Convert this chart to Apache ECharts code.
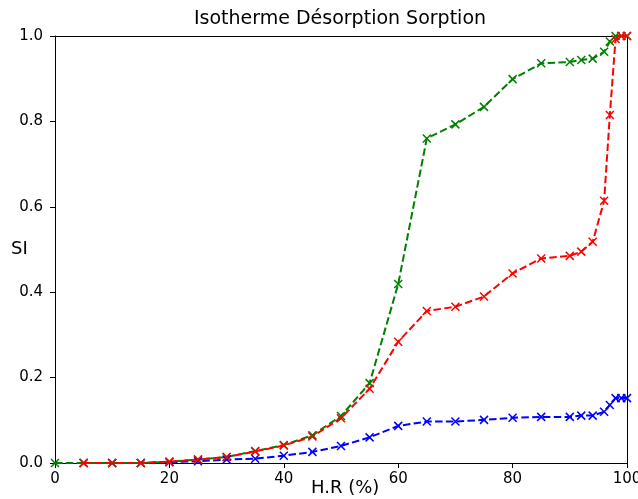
<!DOCTYPE html>
<html>
<head>
<meta charset="utf-8">
<script src="https://cdn.jsdelivr.net/npm/echarts@6/dist/echarts.min.js"></script>
<style>html,body{margin:0;padding:0;background:#fff;overflow:hidden}#c{width:638px;height:499px}</style>
</head>
<body>
<div id="c"></div>
<script>
const hr = [0,5,10,15,20,25,30,35,40,45,50,55,60,65,70,75,80,85,90,92,94,96,97,98,99,100];
const blueValues = [null,0,0,0,0.002,0.004,0.008,0.010,0.017,0.026,0.040,0.060,0.087,0.097,0.097,0.101,0.106,0.108,0.108,0.111,0.111,0.120,0.136,0.152,0.152,0.152];
const greenValues = [0,0,0,0,0.003,0.008,0.014,0.028,0.042,0.065,0.110,0.187,0.419,0.760,0.793,0.834,0.899,0.936,0.939,0.944,0.947,0.963,0.987,1.0,1.0,1.0];
const redValues = [null,0,0,0,0.003,0.008,0.014,0.027,0.041,0.062,0.105,0.174,0.284,0.356,0.366,0.390,0.444,0.479,0.485,0.495,0.518,0.614,0.815,0.993,1.0,1.0];
const xTicks = [0,20,40,60,80,100];
const titleText = 'Isotherme Désorption Sorption';
const xLabel = 'H.R (%)';
const yLabel = 'SI';

const FONT = 'DejaVu Sans';
const X_PATH = 'path://M0,0L10,10M10,0L0,10';
function pairs(vals){ return hr.map((x,i)=>vals[i]===null?null:[x,vals[i]]).filter(p=>p!==null); }
function mk(name, vals, color){
  return {
    name, type:'line', data:pairs(vals), xAxisIndex:0, yAxisIndex:0,
    symbol:X_PATH, symbolSize:8, showSymbol:true,
    lineStyle:{color, width:2, type:[7.5,3.3]},
    itemStyle:{color, borderColor:color, borderWidth:1.5},
    animation:false, clip:true
  };
}
const chart = echarts.init(document.getElementById('c'), null, {width:638, height:499});
chart.setOption({
  backgroundColor:'#fff',
  animation:false,
  grid:{left:55, right:11, top:36, bottom:36, containLabel:false, outerBoundsMode:'none'},
  xAxis:[{
    type:'value', min:0, max:100, interval:20,
    axisLine:{show:true, onZero:false, lineStyle:{color:'#000', width:1}},
    axisTick:{show:true, length:5, lineStyle:{color:'#000'}},
    axisLabel:{fontFamily:FONT, fontSize:15, color:'#000', margin:9, formatter:v=>xTicks.includes(v)?String(v):''},
    splitLine:{show:false}
  },{
    type:'value', min:0, max:100, position:'top',
    axisLine:{show:true, onZero:false, lineStyle:{color:'#000', width:1}},
    axisTick:{show:false}, axisLabel:{show:false}, splitLine:{show:false}
  }],
  yAxis:[{
    type:'value', min:0, max:1, interval:0.2,
    axisLine:{show:true, onZero:false, lineStyle:{color:'#000', width:1}},
    axisTick:{show:true, length:5, lineStyle:{color:'#000'}},
    axisLabel:{fontFamily:FONT, fontSize:15, color:'#000', margin:12, formatter:v=>v.toFixed(1)},
    splitLine:{show:false}
  },{
    type:'value', min:0, max:1, position:'right',
    axisLine:{show:true, onZero:false, lineStyle:{color:'#000', width:1}},
    axisTick:{show:false}, axisLabel:{show:false}, splitLine:{show:false}
  }],
  graphic:[
    {type:'text', x:340, y:10, style:{text:titleText, textAlign:'center', textVerticalAlign:'top', fontFamily:FONT, fontSize:19, fill:'#000'}},
    {type:'text', left:311, top:479, style:{text:xLabel, fontFamily:FONT, fontSize:18, fill:'#000'}},
    {type:'text', left:11, top:240, style:{text:yLabel, fontFamily:FONT, fontSize:18, fill:'#000'}}
  ],
  series:[
    mk('blue', blueValues, '#0000ff'),
    mk('green', greenValues, '#008000'),
    mk('red', redValues, '#ff0000')
  ]
});
</script>
</body>
</html>
